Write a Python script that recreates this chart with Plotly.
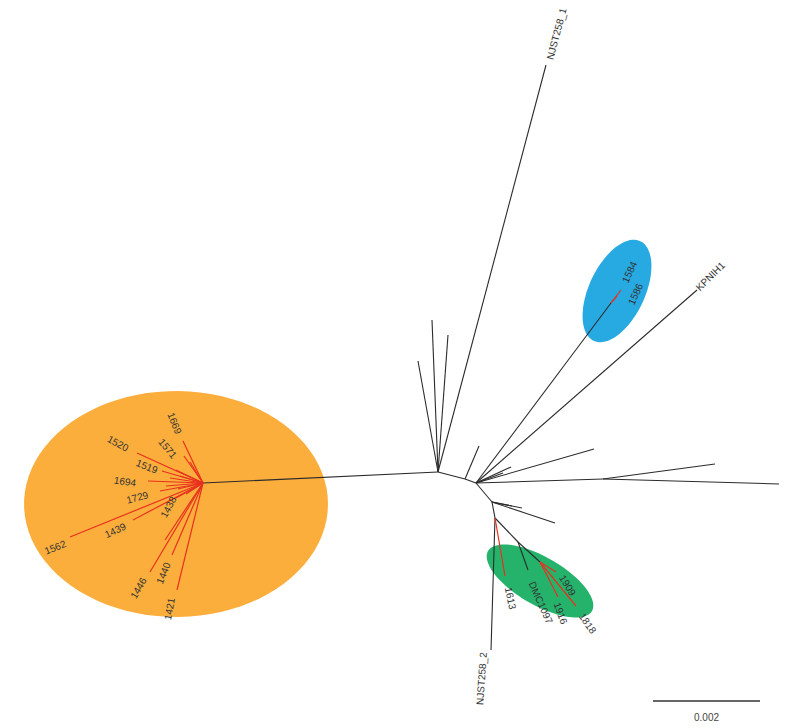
import numpy as np
import plotly.graph_objects as go

# ---- tree data: node name, parent, position in tree-plot units (107 units = 0.002 subst./site)
node_name = ["A", "OH", "AB", "B", "s1", "u1", "u2", "u3", "NJST258_1",
             "BL", "1584", "1586", "KPNIH1", "b3", "b4", "b4b", "H", "h1", "h2",
             "D1", "d1", "d2", "d3", "D2", "NJST258_2", "1613", "D3", "DMC1097", "D4",
             "1909", "1916", "1818",
             "1669", "1571", "1520", "1519", "1694", "1729", "1438", "1439", "1562",
             "1446", "1440", "1421", "o1", "o2", "o3", "o4", "o5", "o6", "o7", "o8"]
node_parent = [None, "A", "A", "AB", "AB", "A", "A", "A", "A",
               "B", "BL", "BL", "B", "B", "B", "B", "B", "H", "H",
               "B", "D1", "D1", "D1", "D1", "D2", "D2", "D2", "D3", "D3",
               "D4", "D4", "D4",
               "OH", "OH", "OH", "OH", "OH", "OH", "OH", "OH", "OH",
               "OH", "OH", "OH", "OH", "OH", "OH", "OH", "OH", "OH", "OH", "OH"]
node_x = [438, 203, 465, 476, 479, 432, 448, 418, 546,
          611, 621, 617, 697, 594, 511, 503, 603, 779, 715,
          492, 555, 522, 512, 495, 491, 505, 518, 528, 540,
          556, 558, 576,
          183, 184, 137, 162, 148, 160, 176, 133, 70,
          150, 172, 177, 176, 170, 178, 186, 166, 190, 165, 180]
node_y = [472, 483, 479, 483, 446, 320, 335, 361, 65,
          303, 290, 296, 290, 449, 467, 473, 479, 484, 464,
          502, 523, 508, 506, 518, 650, 576, 542, 570, 562,
          572, 597, 606,
          441, 456, 453, 471, 481, 491, 498, 520, 537,
          572, 555, 590, 470, 478, 489, 494, 486, 462, 540, 476]
# branches drawn in red (leading to focal isolates)
red_branches = ["1584", "1586", "1613", "1909", "1916", "1818",
                "1669", "1571", "1520", "1519", "1694", "1729", "1438", "1439", "1562",
                "1446", "1440", "1421", "o1", "o2", "o3", "o4", "o5", "o6", "o7", "o8"]

# tip labels shown
tip_labels = ["NJST258_1", "KPNIH1", "NJST258_2", "1584", "1586", "1613", "DMC1097",
              "1909", "1916", "1818", "1669", "1571", "1520", "1519", "1694", "1729",
              "1438", "1439", "1562", "1446", "1440", "1421"]

scale_value = 0.002
scale_units = 107

# ---- label layout (centre position and rotation)
label_pos = {
    "NJST258_1": (556, 34, -75), "KPNIH1": (710, 276, -45), "NJST258_2": (481, 679, -86),
    "1584": (629, 272, -65), "1586": (635, 294, -65),
    "1613": (511, 598, 78), "DMC1097": (541, 602, 66), "1909": (568, 585, 58),
    "1916": (561, 613, 70), "1818": (588, 623, 55),
    "1669": (175, 423, 68), "1571": (168, 448, 50), "1520": (118, 443, 28),
    "1519": (147, 466, 22), "1694": (125, 481, 8), "1729": (137, 497, -15),
    "1438": (168, 507, -62), "1439": (115, 530, -25), "1562": (55, 547, -22),
    "1446": (138, 588, -60), "1440": (163, 573, -68), "1421": (169, 609, -80),
}

pos = {n: (x, y) for n, x, y in zip(node_name, node_x, node_y)}

def segs(names):
    xs, ys = [], []
    for n in names:
        p = node_parent[node_name.index(n)]
        if p is None:
            continue
        xs += [pos[p][0], pos[n][0], None]
        ys += [pos[p][1], pos[n][1], None]
    return xs, ys

black = [n for n in node_name if n not in red_branches]
bx, by = segs(black)
rx, ry = segs(red_branches)

def ellipse_path(cx, cy, a, b, ang):
    t = np.linspace(0, 2 * np.pi, 90)
    th = np.radians(ang)
    xs = cx + a * np.cos(t) * np.cos(th) - b * np.sin(t) * np.sin(th)
    ys = cy + a * np.cos(t) * np.sin(th) + b * np.sin(t) * np.cos(th)
    return "M " + " L ".join(f"{x:.1f},{y:.1f}" for x, y in zip(xs, ys)) + " Z"

fig = go.Figure()
fig.add_trace(go.Scatter(x=bx, y=by, mode="lines", line=dict(color="#2b2b2b", width=1.1),
                         hoverinfo="skip", showlegend=False))
fig.add_trace(go.Scatter(x=rx, y=ry, mode="lines", line=dict(color="#E8301F", width=1.2),
                         hoverinfo="skip", showlegend=False))

shapes = [
    dict(type="path", path=ellipse_path(176, 504, 152, 113, 0), fillcolor="#FBAE3C",
         line=dict(width=0), layer="below"),
    dict(type="path", path=ellipse_path(617, 291, 55, 28, -65), fillcolor="#27A9E1",
         line=dict(width=0), layer="below"),
    dict(type="path", path=ellipse_path(540, 581, 60, 24, 30), fillcolor="#25B36B",
         line=dict(width=0), layer="below"),
    dict(type="line", x0=653, x1=653 + scale_units, y0=701, y1=701,
         line=dict(color="#333333", width=1.5)),
]

annotations = []
for n in tip_labels:
    x, y, a = label_pos[n]
    annotations.append(dict(x=x, y=y, text=n, showarrow=False, textangle=a,
                            xanchor="center", yanchor="middle",
                            font=dict(family="Liberation Sans, Arial", size=10, color="#333333")))
annotations.append(dict(x=653 + scale_units / 2, y=717, text=f"{scale_value:.3f}", showarrow=False,
                        font=dict(family="Liberation Sans, Arial", size=10, color="#444444")))

# page body has an 8px margin: figure spans window pixels 8..787 / 8..728
fig.update_layout(
    width=779, height=720, margin=dict(l=0, r=0, t=0, b=0),
    paper_bgcolor="white", plot_bgcolor="white",
    xaxis=dict(range=[8, 787], visible=False, fixedrange=True),
    yaxis=dict(range=[728, 8], visible=False, fixedrange=True),
    shapes=shapes, annotations=annotations,
)
fig.write_html("out.html")
